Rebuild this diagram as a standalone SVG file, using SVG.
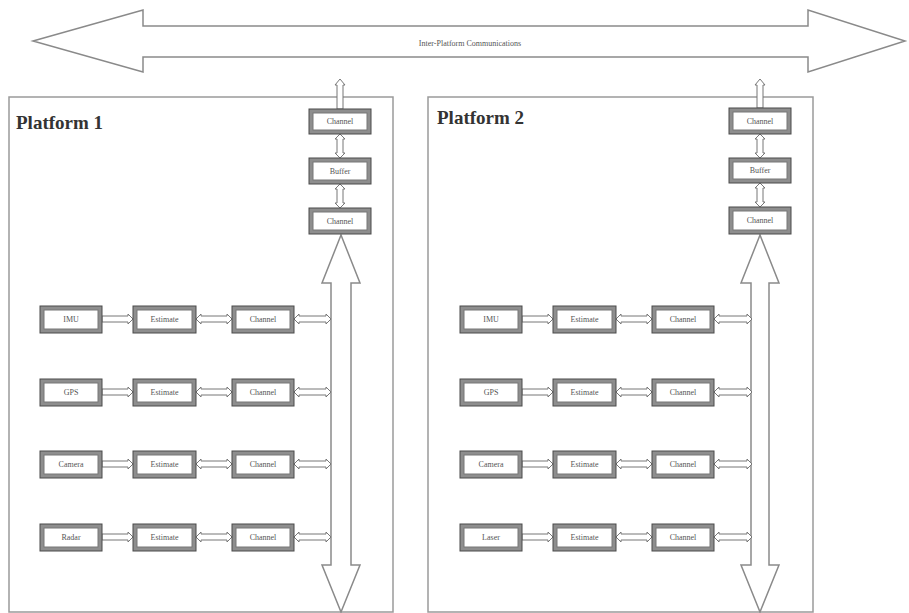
<svg xmlns="http://www.w3.org/2000/svg" width="909" height="613" viewBox="0 0 909 613">
<style>
.bg{fill:#fff}
.plat{fill:#fff;stroke:#9a9a9a;stroke-width:1.5}
.title{font-family:"Liberation Serif",serif;font-weight:bold;font-size:19px;fill:#333}
.bo{fill:#8e8e8e;stroke:#4a4a4a;stroke-width:1}
.bi{fill:#fff;stroke:#777;stroke-width:1}
.lbl{font-family:"Liberation Serif",serif;font-size:8px;fill:#555;text-anchor:middle}
.big{fill:#fff;stroke:#8a8a8a;stroke-width:1.5}
.con{fill:#fff;stroke:#777;stroke-width:1}
</style>
<rect class="bg" x="0" y="0" width="909" height="613"/>
<g id="platform1"><rect class="plat" x="9" y="97" width="384" height="515"/><text class="title" x="16" y="129">Platform 1</text></g>
<g id="platform2"><rect class="plat" x="428" y="97" width="385" height="515"/><text class="title" x="437" y="124">Platform 2</text></g>
<g id="comms"><polygon class="big" points="33,41 143,10 143,26 808,26 808,10 905,41 808,72 808,57 143,57 143,72"/><text class="lbl" x="470" y="46">Inter-Platform Communications</text></g>
<g id="connectors">
<polygon class="big" points="341,235 360,283 351,283 351,565 360,565 341,612 322,565 331,565 331,283 322,283"/>
<polygon class="big" points="760,235 779,283 769,283 769,565 779,565 760,612 741,565 751,565 751,283 741,283"/>
<!-- vertical P1 -->
<polygon class="con" points="340,79 345,85 343,85 343,109 337,109 337,85 335,85"/>
<polygon class="con" points="340,134 345,139 343,139 343,153 345,153 340,158 335,153 337,153 337,139 335,139"/>
<polygon class="con" points="340,184 345,189 343,189 343,203 345,203 340,208 335,203 337,203 337,189 335,189"/>
<!-- vertical P2 -->
<polygon class="con" points="760,79 765,85 763,85 763,108 757,108 757,85 755,85"/>
<polygon class="con" points="760,134 765,139 763,139 763,153 765,153 760,158 755,153 757,153 757,139 755,139"/>
<polygon class="con" points="760,183 765,188 763,188 763,202 765,202 760,207 755,202 757,202 757,188 755,188"/>
<!-- P1 rows -->
<g id="p1rows">
<polygon class="con" points="102,316 128,316 128,314 133,319 128,324 128,322 102,322"/>
<polygon class="con" points="196,319 201,314 201,316 227,316 227,314 232,319 227,324 227,322 201,322 201,324"/>
<polygon class="con" points="294,319 299,314 299,316 326,316 326,314 331,319 326,324 326,322 299,322 299,324"/>
<polygon class="con" points="102,389 128,389 128,387 133,392 128,397 128,395 102,395"/>
<polygon class="con" points="196,392 201,387 201,389 227,389 227,387 232,392 227,397 227,395 201,395 201,397"/>
<polygon class="con" points="294,392 299,387 299,389 326,389 326,387 331,392 326,397 326,395 299,395 299,397"/>
<polygon class="con" points="102,461 128,461 128,459 133,464 128,469 128,467 102,467"/>
<polygon class="con" points="196,464 201,459 201,461 227,461 227,459 232,464 227,469 227,467 201,467 201,469"/>
<polygon class="con" points="294,464 299,459 299,461 326,461 326,459 331,464 326,469 326,467 299,467 299,469"/>
<polygon class="con" points="102,534 128,534 128,532 133,537 128,542 128,540 102,540"/>
<polygon class="con" points="196,537 201,532 201,534 227,534 227,532 232,537 227,542 227,540 201,540 201,542"/>
<polygon class="con" points="294,537 299,532 299,534 326,534 326,532 331,537 326,542 326,540 299,540 299,542"/>
</g>
<g id="p2rows">
<polygon class="con" points="522,316 548,316 548,314 553,319 548,324 548,322 522,322"/>
<polygon class="con" points="616,319 621,314 621,316 647,316 647,314 652,319 647,324 647,322 621,322 621,324"/>
<polygon class="con" points="714,319 719,314 719,316 747,316 747,314 752,319 747,324 747,322 719,322 719,324"/>
<polygon class="con" points="522,389 548,389 548,387 553,392 548,397 548,395 522,395"/>
<polygon class="con" points="616,392 621,387 621,389 647,389 647,387 652,392 647,397 647,395 621,395 621,397"/>
<polygon class="con" points="714,392 719,387 719,389 747,389 747,387 752,392 747,397 747,395 719,395 719,397"/>
<polygon class="con" points="522,461 548,461 548,459 553,464 548,469 548,467 522,467"/>
<polygon class="con" points="616,464 621,459 621,461 647,461 647,459 652,464 647,469 647,467 621,467 621,469"/>
<polygon class="con" points="714,464 719,459 719,461 747,461 747,459 752,464 747,469 747,467 719,467 719,469"/>
<polygon class="con" points="522,534 548,534 548,532 553,537 548,542 548,540 522,540"/>
<polygon class="con" points="616,537 621,532 621,534 647,534 647,532 652,537 647,542 647,540 621,540 621,542"/>
<polygon class="con" points="714,537 719,532 719,534 747,534 747,532 752,537 747,542 747,540 719,540 719,542"/>
</g>
</g>
<!-- P1 column nodes -->
<g id="p1-channel-top"><rect class="bo" x="309" y="109" width="62" height="25"/><rect class="bi" x="313" y="113" width="54" height="17"/><text class="lbl" x="340" y="124">Channel</text></g>
<g id="p1-buffer"><rect class="bo" x="309" y="158" width="62" height="26"/><rect class="bi" x="313" y="162" width="54" height="18"/><text class="lbl" x="340" y="174">Buffer</text></g>
<g id="p1-channel-mid"><rect class="bo" x="309" y="208" width="62" height="26"/><rect class="bi" x="313" y="212" width="54" height="18"/><text class="lbl" x="340" y="224">Channel</text></g>
<!-- P2 column nodes -->
<g id="p2-channel-top"><rect class="bo" x="729" y="108" width="62" height="26"/><rect class="bi" x="733" y="112" width="54" height="18"/><text class="lbl" x="760" y="124">Channel</text></g>
<g id="p2-buffer"><rect class="bo" x="729" y="158" width="62" height="25"/><rect class="bi" x="733" y="162" width="54" height="17"/><text class="lbl" x="760" y="173">Buffer</text></g>
<g id="p2-channel-mid"><rect class="bo" x="729" y="207" width="62" height="27"/><rect class="bi" x="733" y="211" width="54" height="19"/><text class="lbl" x="760" y="223">Channel</text></g>
<!-- P1 rows nodes -->
<g id="p1-imu"><rect class="bo" x="40" y="306" width="62" height="27"/><rect class="bi" x="44" y="310" width="54" height="19"/><text class="lbl" x="71" y="322">IMU</text></g>
<g id="p1-est1"><rect class="bo" x="133" y="306" width="63" height="27"/><rect class="bi" x="137" y="310" width="55" height="19"/><text class="lbl" x="164.5" y="322">Estimate</text></g>
<g id="p1-ch1"><rect class="bo" x="232" y="306" width="62" height="27"/><rect class="bi" x="236" y="310" width="54" height="19"/><text class="lbl" x="263" y="322">Channel</text></g>
<g id="p1-gps"><rect class="bo" x="40" y="379" width="62" height="27"/><rect class="bi" x="44" y="383" width="54" height="19"/><text class="lbl" x="71" y="395">GPS</text></g>
<g id="p1-est2"><rect class="bo" x="133" y="379" width="63" height="27"/><rect class="bi" x="137" y="383" width="55" height="19"/><text class="lbl" x="164.5" y="395">Estimate</text></g>
<g id="p1-ch2"><rect class="bo" x="232" y="379" width="62" height="27"/><rect class="bi" x="236" y="383" width="54" height="19"/><text class="lbl" x="263" y="395">Channel</text></g>
<g id="p1-camera"><rect class="bo" x="40" y="451" width="62" height="27"/><rect class="bi" x="44" y="455" width="54" height="19"/><text class="lbl" x="71" y="467">Camera</text></g>
<g id="p1-est3"><rect class="bo" x="133" y="451" width="63" height="27"/><rect class="bi" x="137" y="455" width="55" height="19"/><text class="lbl" x="164.5" y="467">Estimate</text></g>
<g id="p1-ch3"><rect class="bo" x="232" y="451" width="62" height="27"/><rect class="bi" x="236" y="455" width="54" height="19"/><text class="lbl" x="263" y="467">Channel</text></g>
<g id="p1-radar"><rect class="bo" x="40" y="524" width="62" height="27"/><rect class="bi" x="44" y="528" width="54" height="19"/><text class="lbl" x="71" y="540">Radar</text></g>
<g id="p1-est4"><rect class="bo" x="133" y="524" width="63" height="27"/><rect class="bi" x="137" y="528" width="55" height="19"/><text class="lbl" x="164.5" y="540">Estimate</text></g>
<g id="p1-ch4"><rect class="bo" x="232" y="524" width="62" height="27"/><rect class="bi" x="236" y="528" width="54" height="19"/><text class="lbl" x="263" y="540">Channel</text></g>
<!-- P2 rows nodes -->
<g id="p2-imu"><rect class="bo" x="460" y="306" width="62" height="27"/><rect class="bi" x="464" y="310" width="54" height="19"/><text class="lbl" x="491" y="322">IMU</text></g>
<g id="p2-est1"><rect class="bo" x="553" y="306" width="63" height="27"/><rect class="bi" x="557" y="310" width="55" height="19"/><text class="lbl" x="584.5" y="322">Estimate</text></g>
<g id="p2-ch1"><rect class="bo" x="652" y="306" width="62" height="27"/><rect class="bi" x="656" y="310" width="54" height="19"/><text class="lbl" x="683" y="322">Channel</text></g>
<g id="p2-gps"><rect class="bo" x="460" y="379" width="62" height="27"/><rect class="bi" x="464" y="383" width="54" height="19"/><text class="lbl" x="491" y="395">GPS</text></g>
<g id="p2-est2"><rect class="bo" x="553" y="379" width="63" height="27"/><rect class="bi" x="557" y="383" width="55" height="19"/><text class="lbl" x="584.5" y="395">Estimate</text></g>
<g id="p2-ch2"><rect class="bo" x="652" y="379" width="62" height="27"/><rect class="bi" x="656" y="383" width="54" height="19"/><text class="lbl" x="683" y="395">Channel</text></g>
<g id="p2-camera"><rect class="bo" x="460" y="451" width="62" height="27"/><rect class="bi" x="464" y="455" width="54" height="19"/><text class="lbl" x="491" y="467">Camera</text></g>
<g id="p2-est3"><rect class="bo" x="553" y="451" width="63" height="27"/><rect class="bi" x="557" y="455" width="55" height="19"/><text class="lbl" x="584.5" y="467">Estimate</text></g>
<g id="p2-ch3"><rect class="bo" x="652" y="451" width="62" height="27"/><rect class="bi" x="656" y="455" width="54" height="19"/><text class="lbl" x="683" y="467">Channel</text></g>
<g id="p2-laser"><rect class="bo" x="460" y="524" width="62" height="27"/><rect class="bi" x="464" y="528" width="54" height="19"/><text class="lbl" x="491" y="540">Laser</text></g>
<g id="p2-est4"><rect class="bo" x="553" y="524" width="63" height="27"/><rect class="bi" x="557" y="528" width="55" height="19"/><text class="lbl" x="584.5" y="540">Estimate</text></g>
<g id="p2-ch4"><rect class="bo" x="652" y="524" width="62" height="27"/><rect class="bi" x="656" y="528" width="54" height="19"/><text class="lbl" x="683" y="540">Channel</text></g>
</svg>
